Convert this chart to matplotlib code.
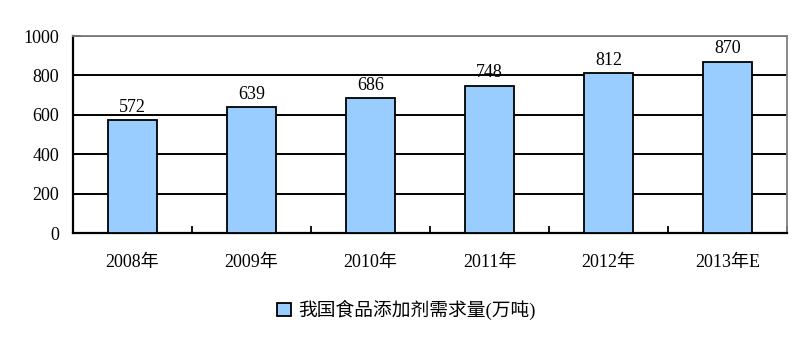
import matplotlib
matplotlib.use('Agg')
import matplotlib.pyplot as plt
import numpy as np

plt.rcParams['font.family'] = ['Liberation Serif', 'Noto Sans CJK SC']

years = ['2008年', '2009年', '2010年', '2011年', '2012年', '2013年E']
demand = [572, 639, 686, 748, 812, 870]
series_name = '我国食品添加剂需求量(万吨)'

fig = plt.figure(figsize=(8.05, 3.37), dpi=100)
ax = fig.add_axes([0.0907, 0.3086, 0.887, 0.5844])

x = np.arange(len(years))
bars = ax.bar(x, demand, width=0.41, color='#99CCFF', edgecolor='black',
              linewidth=1.3, label=series_name, zorder=3)

for xi, v in zip(x, demand):
    ax.text(xi, v + 22, str(v), ha='center', va='bottom', fontsize=13)

ax.set_xlim(-0.5, len(years) - 0.5)
ax.set_ylim(0, 1000)
ax.set_yticks(range(0, 1001, 200))
ax.yaxis.grid(True, color='black', linewidth=1.4, zorder=0)
ax.set_axisbelow(True)

ax.set_xticks(x)
ax.set_xticklabels(years, fontsize=13)
ax.set_xticks(np.arange(-0.5, len(years)), minor=True)
ax.tick_params(axis='x', which='major', length=0, pad=15)
ax.tick_params(axis='x', which='minor', direction='in', length=5, width=1.3)
ax.tick_params(axis='y', direction='in', length=6, width=1.3, labelsize=13, pad=10)

for s in ['left', 'bottom']:
    ax.spines[s].set_color('black')
    ax.spines[s].set_linewidth(1.6)
for s in ['top', 'right']:
    ax.spines[s].set_color('#808080')
    ax.spines[s].set_linewidth(1.3)

fig.legend(handles=[bars], labels=[series_name], loc='center',
           bbox_to_anchor=(0.505, 0.08), frameon=False, fontsize=13.5,
           handlelength=0.7, handleheight=0.7, handletextpad=0.4)

fig.savefig('out.png', dpi=100)
